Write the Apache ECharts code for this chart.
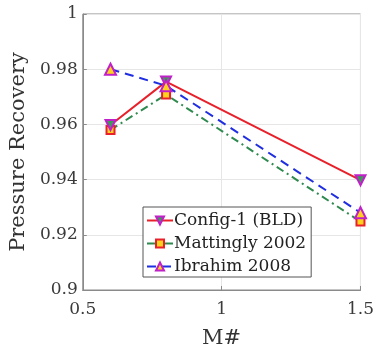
<!DOCTYPE html>
<html>
<head>
<meta charset="utf-8">
<script src="https://cdn.jsdelivr.net/npm/echarts@6/dist/echarts.min.js"></script>
<style>
  html, body { margin: 0; padding: 0; background: #fff; }
  #chart { width: 377px; height: 354px; }
</style>
</head>
<body>
<div id="chart"></div>
<script>
const machNumbers = [0.6, 0.8, 1.5];
const config1 = [0.9598, 0.9755, 0.9398];
const mattingly = [0.958, 0.9708, 0.9248];
const ibrahim = [0.98, 0.974, 0.928];

const FONT = 'DejaVu Serif';
const pairs = vals => machNumbers.map((m, i) => [m, vals[i]]);

const chart = echarts.init(document.getElementById('chart'), null, {renderer: 'canvas'});

chart.setOption({
  animation: false,
  textStyle: {fontFamily: FONT},
  grid: {
    left: 82, right: 14, top: 14, bottom: 60,
    show: true, borderColor: '#8a8a8a', borderWidth: 1,
    containLabel: false,
  },
  xAxis: {
    type: 'value', min: 0.5, max: 1.5, interval: 0.5,
    name: 'M#', nameLocation: 'middle', nameGap: 38,
    nameTextStyle: {fontFamily: FONT, fontSize: 21, color: '#333'},
    axisLine: {show: true, lineStyle: {color: '#8a8a8a'}},
    axisTick: {show: true, inside: true, length: 4, lineStyle: {color: '#8a8a8a'}},
    axisLabel: {fontFamily: FONT, fontSize: 17, color: '#3a3a3a', margin: 11,
      formatter: v => String(v)},
    splitLine: {show: true, lineStyle: {color: '#e6e6e6'}},
  },
  yAxis: {
    type: 'value', min: 0.9, max: 1, interval: 0.02,
    name: 'Pressure Recovery', nameLocation: 'middle', nameGap: 49,
    nameTextStyle: {fontFamily: FONT, fontSize: 21, color: '#333'},
    axisLine: {show: true, lineStyle: {color: '#8a8a8a'}},
    axisTick: {show: true, inside: true, length: 4, lineStyle: {color: '#8a8a8a'}},
    axisLabel: {fontFamily: FONT, fontSize: 17, color: '#3a3a3a', margin: 5,
      formatter: v => String(+v.toFixed(2))},
    splitLine: {show: true, lineStyle: {color: '#e6e6e6'}},
  },
  legend: {
    orient: 'vertical',
    left: 143, top: 207,
    backgroundColor: '#fff',
    borderColor: '#555', borderWidth: 1,
    padding: [5, 5, 2, 3],
    itemGap: 6,
    itemWidth: 26, itemHeight: 10,
    textStyle: {fontFamily: FONT, fontSize: 17, color: '#222', padding: [0, 0, 0, -4]},
    data: ['Config-1 (BLD)', 'Mattingly 2002', 'Ibrahim 2008'],
  },
  series: [
    {
      name: 'Config-1 (BLD)', type: 'line', data: pairs(config1),
      symbol: 'triangle', symbolRotate: 180, symbolSize: 10,
      lineStyle: {color: '#e8202a', width: 2},
      itemStyle: {color: '#3f9a5a', borderColor: '#c020c8', borderWidth: 2},
      z: 3,
    },
    {
      name: 'Mattingly 2002', type: 'line', data: pairs(mattingly),
      symbol: 'rect', symbolSize: 8,
      lineStyle: {color: '#2e8a4e', width: 2, type: [8, 4, 2, 4]},
      itemStyle: {color: '#ffd21f', borderColor: '#e8202a', borderWidth: 2},
      z: 2,
    },
    {
      name: 'Ibrahim 2008', type: 'line', data: pairs(ibrahim),
      symbol: 'triangle', symbolSize: 11,
      lineStyle: {color: '#1f2ee0', width: 2, type: [9, 6]},
      itemStyle: {color: '#ffd21f', borderColor: '#c020c8', borderWidth: 2},
      z: 4,
    },
  ],
});
</script>
</body>
</html>
